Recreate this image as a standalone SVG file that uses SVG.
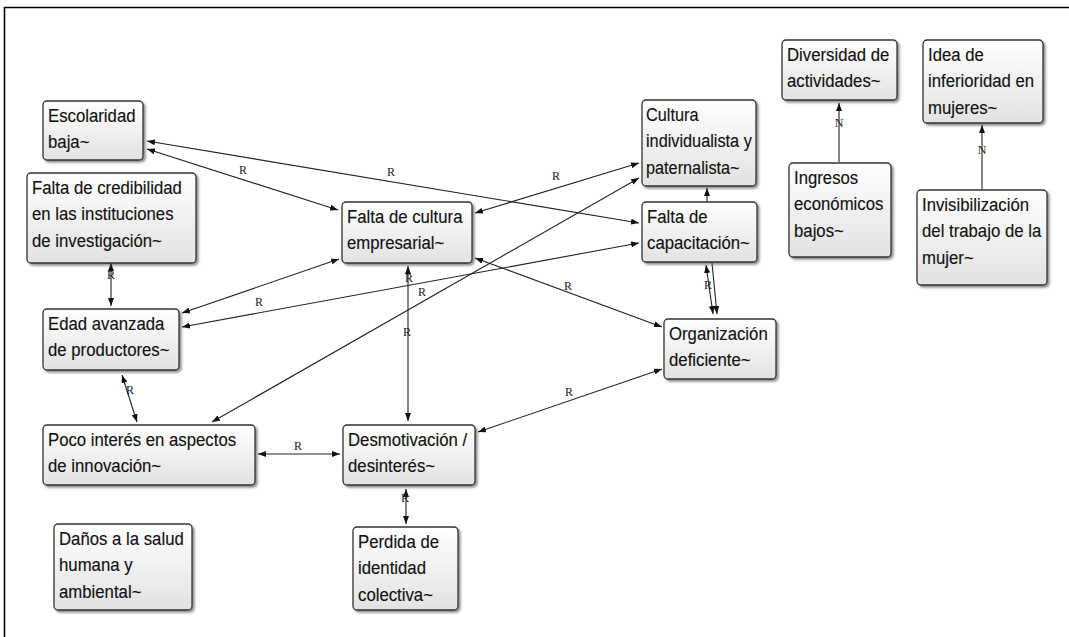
<svg xmlns="http://www.w3.org/2000/svg" width="1069" height="637" viewBox="0 0 1069 637">
  <defs>
    <linearGradient id="boxFill" x1="0" y1="0" x2="0" y2="1">
      <stop offset="0" stop-color="#ffffff"/>
      <stop offset="1" stop-color="#e2e2e2"/>
    </linearGradient>
    <filter id="shadow" x="-10%" y="-10%" width="130%" height="140%">
      <feDropShadow dx="2" dy="2" stdDeviation="1.2" flood-color="#444" flood-opacity="0.6"/>
    </filter>
    <marker id="arrow" viewBox="0 0 8 6" refX="8" refY="3" markerWidth="8" markerHeight="6" markerUnits="userSpaceOnUse" orient="auto-start-reverse">
      <path d="M0,0 L8,3 L0,6 z" fill="#111"/>
    </marker>
  </defs>
  <style>
    .box { fill: url(#boxFill); stroke: #333; stroke-width: 1.3; filter: url(#shadow); }
    .lbl { font-family: "Liberation Sans", Arial, sans-serif; font-size: 18.5px; fill: #111; stroke: #111; stroke-width: 0.15; }
    .edge { fill: none; stroke: #222; stroke-width: 1.1; }
    .bi { marker-start: url(#arrow); marker-end: url(#arrow); }
    .one { marker-end: url(#arrow); }
    .tag { font-family: "Liberation Serif", "Times New Roman", serif; font-size: 12px; fill: #222; text-anchor: middle; }
  </style>

  <rect width="1069" height="637" fill="#ffffff"/>
  <!-- frame -->
  <path d="M4.5,637 L4.5,7.5 L1069,7.5" fill="none" stroke="#000" stroke-width="1.6"/>

  <!-- connectors -->
  <g id="connectors">
    <path class="edge bi" d="M147,149 L338,210"/>
    <path class="edge bi" d="M147,141 L639,223"/>
    <path class="edge bi" d="M475,213 L639,163"/>
    <path class="edge bi" d="M182,313 L339,259"/>
    <path class="edge bi" d="M182,327 L639,243"/>
    <path class="edge bi" d="M408,266 L408,421"/>
    <path class="edge bi" d="M212,422 L639,178"/>
    <path class="edge bi" d="M475,258 L662,327"/>
    <path class="edge bi" d="M662,369 L478,432"/>
    <path class="edge bi" d="M706,265 L713,314"/>
    <path class="edge one" d="M712,263 L717,314"/>
    <path class="edge one" d="M707,202 L707,188"/>
    <path class="edge bi" d="M111,263 L111,306"/>
    <path class="edge bi" d="M122,375 L137,422"/>
    <path class="edge bi" d="M258,454 L340,454"/>
    <path class="edge bi" d="M406,489 L406,524"/>
    <path class="edge one" d="M839,162 L839,103"/>
    <path class="edge one" d="M982,189 L982,125"/>

    <text class="tag" x="243" y="174">R</text>
    <text class="tag" x="391" y="176">R</text>
    <text class="tag" x="556" y="180">R</text>
    <text class="tag" x="259" y="306">R</text>
    <text class="tag" x="409" y="282">R</text>
    <text class="tag" x="422" y="296">R</text>
    <text class="tag" x="407" y="336">R</text>
    <text class="tag" x="568" y="290">R</text>
    <text class="tag" x="569" y="396">R</text>
    <text class="tag" x="708" y="289">R</text>
    <text class="tag" x="111" y="279">R</text>
    <text class="tag" x="130" y="394">R</text>
    <text class="tag" x="298" y="450">R</text>
    <text class="tag" x="405" y="502">R</text>
    <text class="tag" x="839" y="127">N</text>
    <text class="tag" x="982" y="154">N</text>
  </g>

  <!-- nodes -->
  <g id="escolaridad">
    <rect class="box" x="43" y="101" width="100" height="59" rx="4"/>
    <text class="lbl" transform="translate(48,121.5) scale(0.906 1)"><tspan x="0">Escolaridad</tspan><tspan x="0" dy="26.7">baja~</tspan></text>
  </g>
  <g id="credibilidad">
    <rect class="box" x="27" y="173" width="169" height="90" rx="4"/>
    <text class="lbl" transform="translate(32,193.5) scale(0.906 1)"><tspan x="0">Falta de credibilidad</tspan><tspan x="0" dy="26.7">en las instituciones</tspan><tspan x="0" dy="26.7">de investigación~</tspan></text>
  </g>
  <g id="edad">
    <rect class="box" x="43" y="309" width="136" height="61" rx="4"/>
    <text class="lbl" transform="translate(48,329.5) scale(0.906 1)"><tspan x="0">Edad avanzada</tspan><tspan x="0" dy="26.7">de productores~</tspan></text>
  </g>
  <g id="poco-interes">
    <rect class="box" x="43" y="425" width="212" height="60" rx="4"/>
    <text class="lbl" transform="translate(48,445.5) scale(0.906 1)"><tspan x="0">Poco interés en aspectos</tspan><tspan x="0" dy="26.7">de innovación~</tspan></text>
  </g>
  <g id="danos">
    <rect class="box" x="54" y="524" width="138" height="86" rx="4"/>
    <text class="lbl" transform="translate(59,544.5) scale(0.906 1)"><tspan x="0">Daños a la salud</tspan><tspan x="0" dy="26.7">humana y</tspan><tspan x="0" dy="26.7">ambiental~</tspan></text>
  </g>
  <g id="cultura-empresarial">
    <rect class="box" x="342" y="202" width="130" height="61" rx="4"/>
    <text class="lbl" transform="translate(347,222.5) scale(0.906 1)"><tspan x="0">Falta de cultura</tspan><tspan x="0" dy="26.7">empresarial~</tspan></text>
  </g>
  <g id="desmotivacion">
    <rect class="box" x="343" y="425" width="132" height="60" rx="4"/>
    <text class="lbl" transform="translate(348,445.5) scale(0.906 1)"><tspan x="0">Desmotivación /</tspan><tspan x="0" dy="26.7">desinterés~</tspan></text>
  </g>
  <g id="perdida">
    <rect class="box" x="353" y="527" width="105" height="83" rx="4"/>
    <text class="lbl" transform="translate(358,547.5) scale(0.906 1)"><tspan x="0">Perdida de</tspan><tspan x="0" dy="26.7">identidad</tspan><tspan x="0" dy="26.7">colectiva~</tspan></text>
  </g>
  <g id="cultura-individualista">
    <rect class="box" x="642" y="100" width="114" height="86" rx="4"/>
    <text class="lbl" transform="translate(646,120.5) scale(0.88 1)"><tspan x="0">Cultura</tspan><tspan x="0" dy="26.7">individualista y</tspan><tspan x="0" dy="26.7">paternalista~</tspan></text>
  </g>
  <g id="capacitacion">
    <rect class="box" x="642" y="202" width="115" height="60" rx="4"/>
    <text class="lbl" transform="translate(647,222.5) scale(0.906 1)"><tspan x="0">Falta de</tspan><tspan x="0" dy="26.7">capacitación~</tspan></text>
  </g>
  <g id="organizacion">
    <rect class="box" x="664" y="319" width="112" height="60" rx="4"/>
    <text class="lbl" transform="translate(669,339.5) scale(0.906 1)"><tspan x="0">Organización</tspan><tspan x="0" dy="26.7">deficiente~</tspan></text>
  </g>
  <g id="diversidad">
    <rect class="box" x="782" y="40" width="115" height="60" rx="4"/>
    <text class="lbl" transform="translate(787,60.5) scale(0.906 1)"><tspan x="0">Diversidad de</tspan><tspan x="0" dy="26.7">actividades~</tspan></text>
  </g>
  <g id="ingresos">
    <rect class="box" x="789" y="163" width="102" height="94" rx="4"/>
    <text class="lbl" transform="translate(794,183.5) scale(0.906 1)"><tspan x="0">Ingresos</tspan><tspan x="0" dy="26.7">económicos</tspan><tspan x="0" dy="26.7">bajos~</tspan></text>
  </g>
  <g id="inferioridad">
    <rect class="box" x="923" y="40" width="120" height="83" rx="4"/>
    <text class="lbl" transform="translate(928,60.5) scale(0.906 1)"><tspan x="0">Idea de</tspan><tspan x="0" dy="26.7">inferioridad en</tspan><tspan x="0" dy="26.7">mujeres~</tspan></text>
  </g>
  <g id="invisibilizacion">
    <rect class="box" x="917" y="190" width="130" height="95" rx="4"/>
    <text class="lbl" transform="translate(922,210.5) scale(0.906 1)"><tspan x="0">Invisibilización</tspan><tspan x="0" dy="26.7">del trabajo de la</tspan><tspan x="0" dy="26.7">mujer~</tspan></text>
  </g>
</svg>
